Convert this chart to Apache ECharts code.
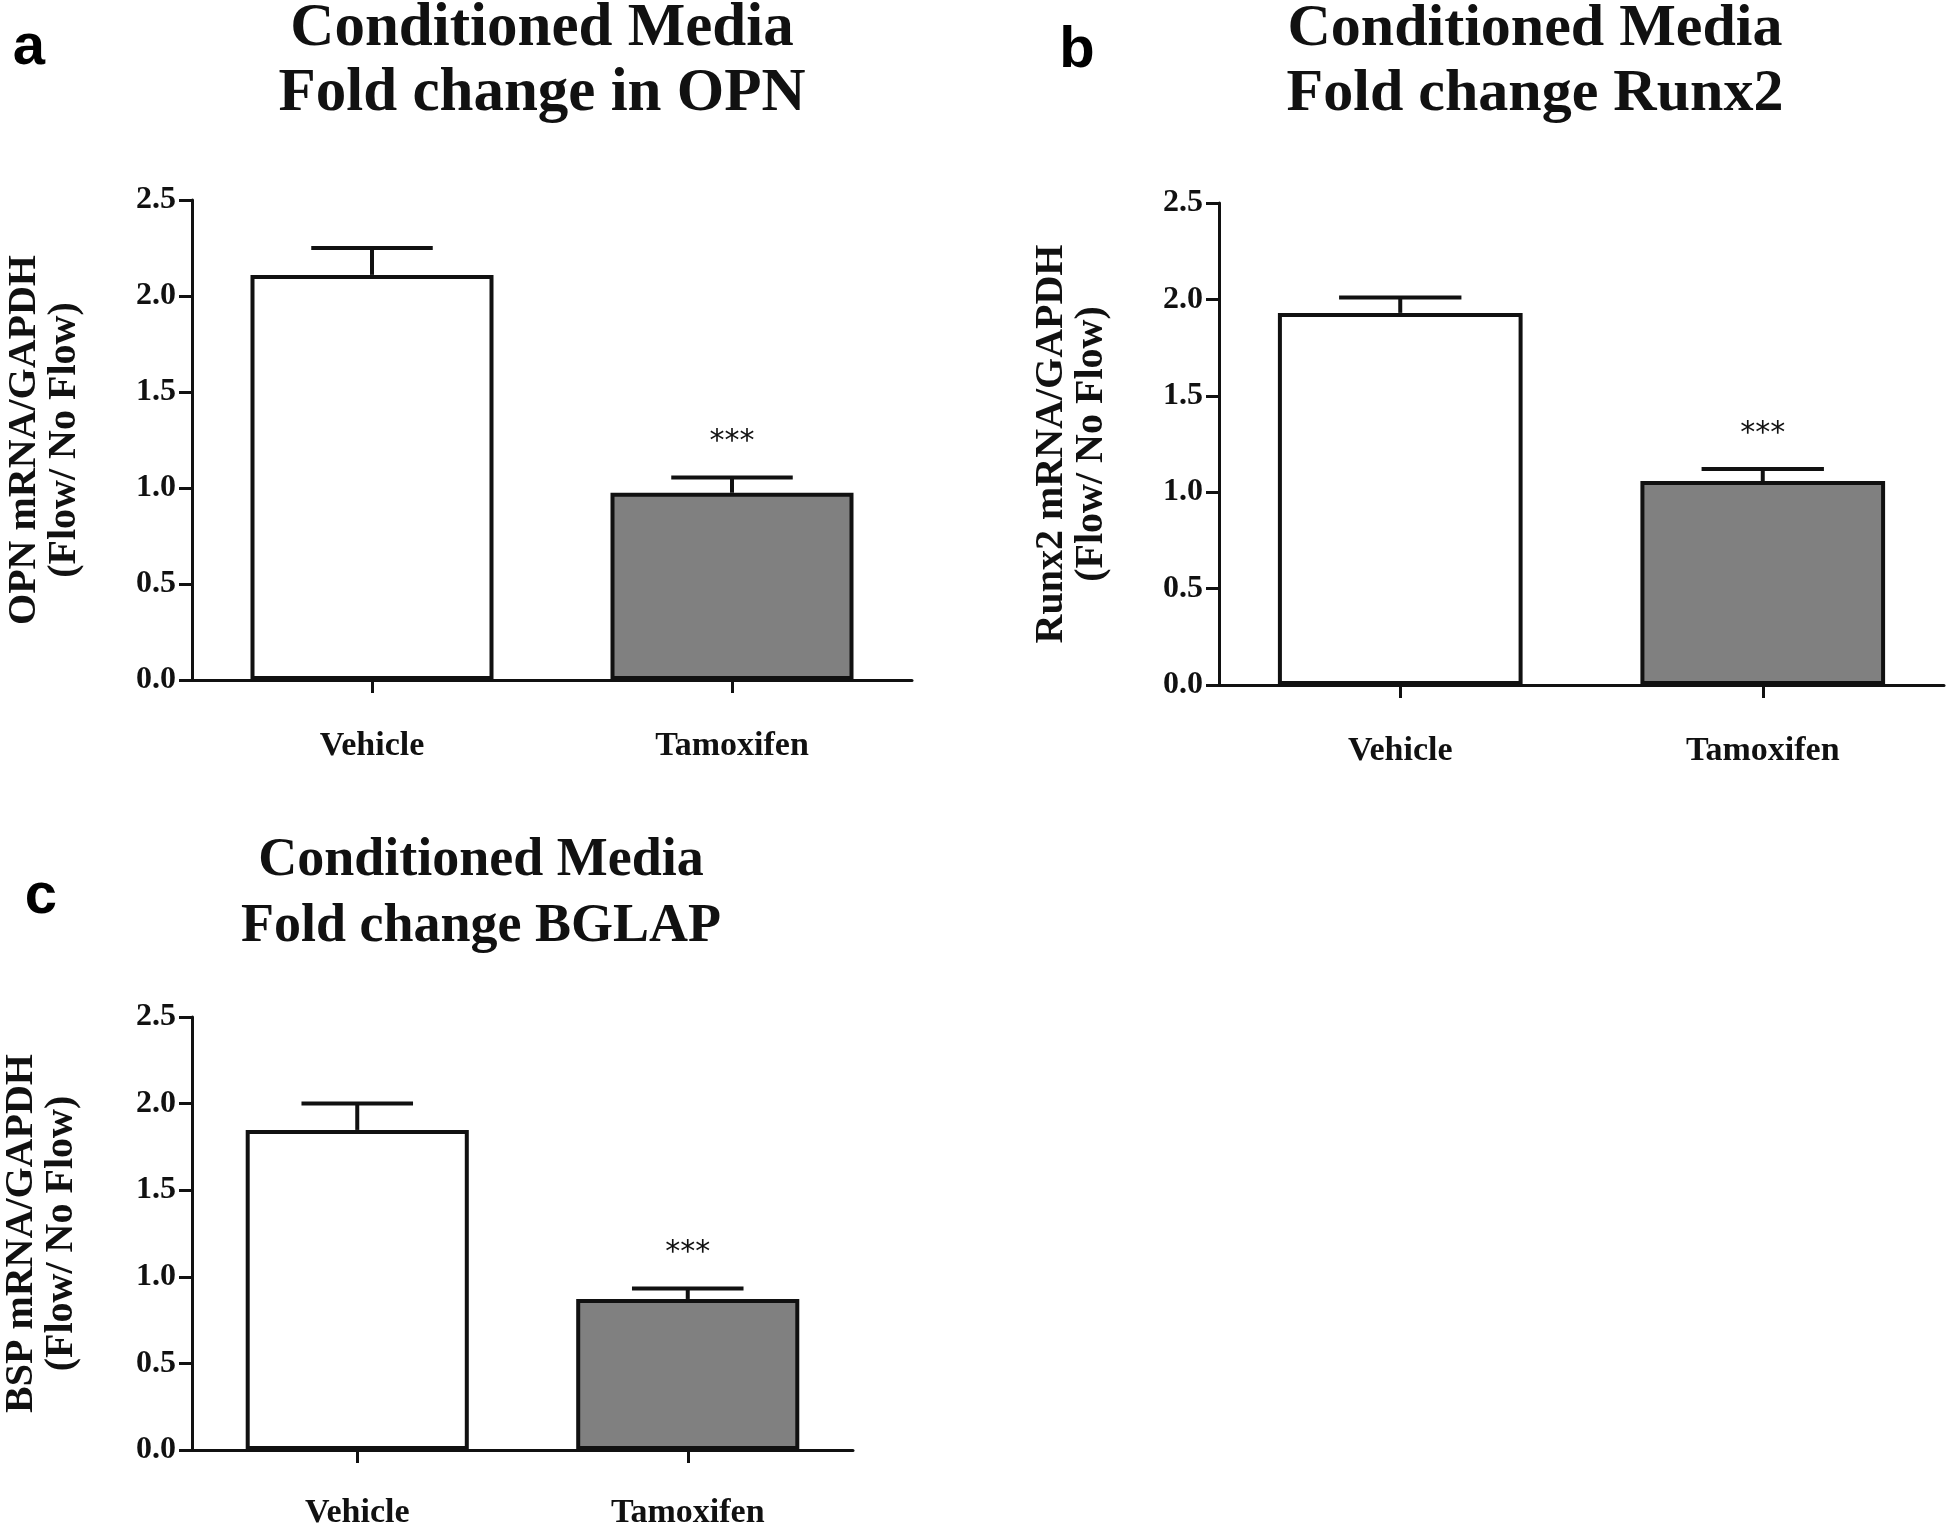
<!DOCTYPE html>
<html>
<head>
<meta charset="utf-8">
<script src="https://cdn.jsdelivr.net/npm/echarts@6/dist/echarts.min.js"></script>
<style>
html,body{margin:0;padding:0;background:#fff;}
#chart{width:1946px;height:1530px;}
</style>
</head>
<body>
<div id="chart"></div>
<script>
// ---- data ----
const categories = ['Vehicle', 'Tamoxifen'];
const opnMean = [2.11, 0.975];
const opnSem = [0.14, 0.08];
const runx2Mean = [1.93, 1.058];
const runx2Sem = [0.08, 0.062];
const bglapMean = [1.848, 0.872];
const bglapSem = [0.152, 0.06];
const significance = ['', '***'];
const yTicks = [0, 0.5, 1.0, 1.5, 2.0, 2.5];
const titlesLine1 = ['Conditioned Media', 'Conditioned Media', 'Conditioned Media'];
const titlesLine2 = ['Fold change in OPN', 'Fold change Runx2', 'Fold change BGLAP'];
const yNames = ['OPN mRNA/GAPDH\n(Flow/ No Flow)', 'Runx2 mRNA/GAPDH\n(Flow/ No Flow)', 'BSP mRNA/GAPDH\n(Flow/ No Flow)'];
const panelLetters = ['a', 'b', 'c'];

const means = [opnMean, runx2Mean, bglapMean];
const sems = [opnSem, runx2Sem, bglapSem];

// ---- layout / style ----
const SERIF = '"Liberation Serif", "Times New Roman", serif';
const SANS = '"Liberation Sans", Arial, sans-serif';
const INK = '#111';
const fills = ['#ffffff', '#808080'];
const BAR_FRAC = 0.675;

const grids = [
  {left: 192, top: 200, width: 720, height: 480},
  {left: 1219, top: 203, width: 725, height: 482},
  {left: 192, top: 1017, width: 661, height: 441}
];
const xLabelMargin = [49, 49, 46];
const nameGaps = [107, 107, 110];
const titlePos = [
  {x: 542, y1: 29, y2: 94, size: 61},
  {x: 1535, y1: 29, y2: 94, size: 60},
  {x: 481, y1: 861, y2: 927, size: 54}
];
const letterPos = [{x: 29, y: 48}, {x: 1077, y: 51}, {x: 41, y: 897}];

const chart = echarts.init(document.getElementById('chart'), null, {renderer: 'canvas'});

const xAxes = [], yAxes = [], series = [], graphics = [];

for (let k = 0; k < 3; k++) {
  xAxes.push({
    type: 'category', gridIndex: k, data: categories,
    axisLine: {show: true, lineStyle: {color: INK, width: 3}},
    axisTick: {show: true, alignWithLabel: true, length: 13, lineStyle: {color: INK, width: 3}},
    axisLabel: {margin: xLabelMargin[k], fontFamily: SERIF, fontWeight: 'bold', fontSize: 34, color: INK},
    splitLine: {show: false}
  });
  yAxes.push({
    type: 'value', gridIndex: k, min: yTicks[0], max: yTicks[yTicks.length - 1], interval: 0.5,
    axisLine: {show: true, lineStyle: {color: INK, width: 3}},
    axisTick: {show: true, length: 13, lineStyle: {color: INK, width: 3}},
    axisLabel: {margin: 16, fontFamily: SERIF, fontWeight: 'bold', fontSize: 32, color: INK,
      formatter: v => v.toFixed(1)},
    splitLine: {show: false},
    name: yNames[k], nameLocation: 'middle', nameRotate: 90, nameGap: nameGaps[k],
    nameTextStyle: {fontFamily: SERIF, fontWeight: 'bold', fontSize: 40, lineHeight: 40, color: INK}
  });
  series.push({
    type: 'bar', xAxisIndex: k, yAxisIndex: k, barWidth: (BAR_FRAC * 100) + '%',
    data: means[k].map((v, i) => ({value: v, itemStyle: {color: fills[i]}})),
    itemStyle: {borderColor: INK, borderWidth: 4},
    silent: true, animation: false
  });
  const semArr = sems[k];
  series.push({
    type: 'custom', xAxisIndex: k, yAxisIndex: k, z: 5, silent: true, animation: false,
    data: means[k].map((m, i) => [i, m, semArr[i]]),
    renderItem: function (params, api) {
      const i = api.value(0), m = api.value(1), e = api.value(2);
      const base = api.coord([i, m]);
      const top = api.coord([i, m + e]);
      const bw = api.size([1, 0])[0] * BAR_FRAC;
      const cw = bw / 2;
      const children = [
        {type: 'line', shape: {x1: base[0], y1: base[1], x2: top[0], y2: top[1]},
          style: {stroke: INK, lineWidth: 4}},
        {type: 'line', shape: {x1: top[0] - cw / 2, y1: top[1], x2: top[0] + cw / 2, y2: top[1]},
          style: {stroke: INK, lineWidth: 4}}
      ];
      const s = significance[params.dataIndex];
      if (s) {
        children.push({type: 'text', x: top[0], y: top[1] - 35,
          style: {text: s, font: '30px "DejaVu Sans", sans-serif', fill: INK, align: 'center', verticalAlign: 'middle'}});
      }
      return {type: 'group', children: children};
    }
  });
  const tp = titlePos[k];
  graphics.push({type: 'text', x: tp.x, y: tp.y1,
    style: {text: titlesLine1[k], font: 'bold ' + tp.size + 'px ' + SERIF, fill: INK, align: 'center', verticalAlign: 'middle'}});
  graphics.push({type: 'text', x: tp.x, y: tp.y2,
    style: {text: titlesLine2[k], font: 'bold ' + tp.size + 'px ' + SERIF, fill: INK, align: 'center', verticalAlign: 'middle'}});
  graphics.push({type: 'text', x: letterPos[k].x, y: letterPos[k].y,
    style: {text: panelLetters[k], font: 'bold 58px ' + SANS, fill: '#000', align: 'center', verticalAlign: 'middle'}});
}

chart.setOption({
  backgroundColor: '#ffffff',
  animation: false,
  grid: grids.map(g => Object.assign({containLabel: false}, g)),
  xAxis: xAxes,
  yAxis: yAxes,
  series: series,
  graphic: graphics
});
</script>
</body>
</html>
